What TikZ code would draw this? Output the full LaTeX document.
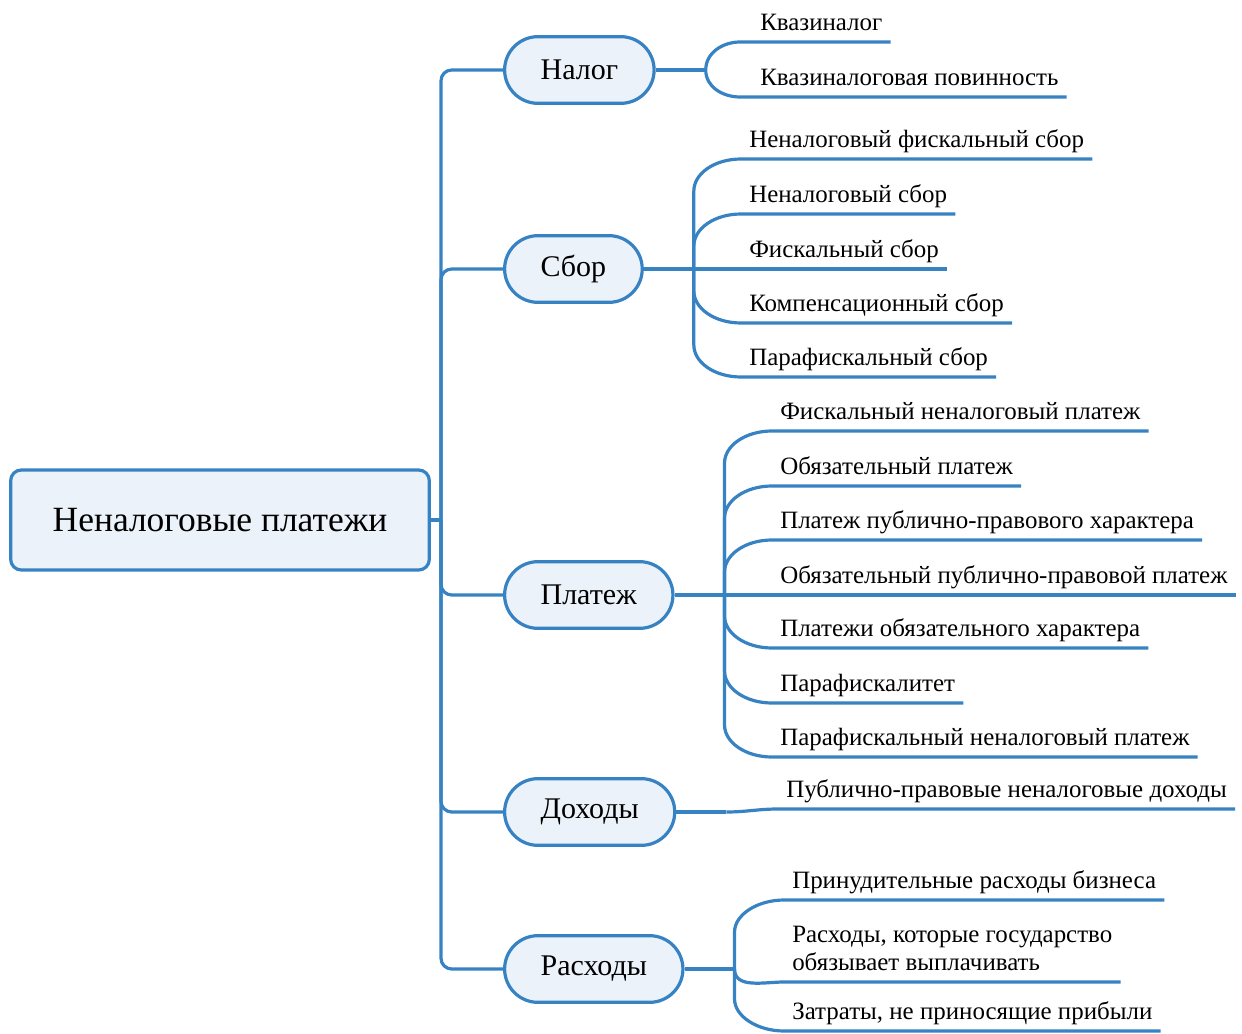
\documentclass[tikz,border=0pt]{standalone}
\usepackage{fontspec}
\setmainfont{Liberation Serif}
\usepackage{xcolor}
\usetikzlibrary{positioning}
\definecolor{mapblue}{RGB}{54,130,195}
\definecolor{mapfill}{RGB}{235,242,249}

\begin{document}
\begin{tikzpicture}[x=0.75pt, y=-0.75pt,
    root/.style={rectangle, draw=mapblue, fill=mapfill, line width=2.4pt, rounded corners=8pt, minimum width=314pt, minimum height=75pt, font=\fontsize{26.6}{30}\selectfont},
    topic/.style={rectangle, draw=mapblue, fill=mapfill, line width=2.4pt, rounded corners=25pt, minimum height=50pt, inner xsep=27pt, anchor=west, font=\fontsize{22.5}{26}\selectfont},
    leaf/.style={inner xsep=6pt, inner ysep=6pt, text depth=0.25em, anchor=south west, font=\fontsize{18.7}{21}\selectfont},
    link/.style={draw=mapblue, line width=2.4pt},
    rise/.style={link, to path={(\tikztostart) -- ([yshift=-24pt]\tikztostart |- \tikztotarget) .. controls +(0pt,13pt) and +(-20pt,0pt) .. (\tikztotarget) \tikztonodes}},
    drop/.style={link, to path={(\tikztostart) -- ([yshift=24pt]\tikztostart |- \tikztotarget) .. controls +(0pt,-13pt) and +(-20pt,0pt) .. (\tikztotarget) \tikztonodes}}]
    \useasboundingbox (0,0) rectangle (1242,1034);

    \node [root] (root) at (220,520) {Неналоговые платежи};
    \coordinate (hub) at (441,520);

    % Topics
    \node [topic] (nalog) at (503,70) {Налог};
    \node [topic] (sbor) at (503,269) {Сбор};
    \node [topic] (platezh) at (503,595) {Платеж};
    \node [topic] (dohody) at (503,812) {Доходы};
    \node [topic] (rashody) at (503,969) {Расходы};

    \coordinate [right=37.5pt of nalog] (nalog-fork);
    \coordinate [right=37.5pt of sbor] (sbor-fork);
    \coordinate [right=37.5pt of platezh] (platezh-fork);
    \coordinate [right=37.5pt of dohody] (dohody-fork);
    \coordinate [right=37.5pt of rashody] (rashody-fork);

    % Leaves
    \node [leaf] (k1) at (752,42) {Квазиналог};
    \node [leaf] (k2) at (752,97) {Квазиналоговая повинность};

    \node [leaf] (s1) at (741,159) {Неналоговый фискальный сбор};
    \node [leaf] (s2) at (741,214) {Неналоговый сбор};
    \node [leaf] (s3) at (741,269) {Фискальный сбор};
    \node [leaf] (s4) at (741,323) {Компенсационный сбор};
    \node [leaf] (s5) at (741,377) {Парафискальный сбор};

    \node [leaf] (p1) at (772,431) {Фискальный неналоговый платеж};
    \node [leaf] (p2) at (772,486) {Обязательный платеж};
    \node [leaf] (p3) at (772,540) {Платеж публично-правового характера};
    \node [leaf] (p4) at (772,595) {Обязательный публично-правовой платеж};
    \node [leaf] (p5) at (772,648) {Платежи обязательного характера};
    \node [leaf] (p6) at (772,703) {Парафискалитет};
    \node [leaf] (p7) at (772,757) {Парафискальный неналоговый платеж};

    \node [leaf] (d1) at (778,809) {Публично-правовые неналоговые доходы};

    \node [leaf] (r1) at (784,900) {Принудительные расходы бизнеса};
    \node [leaf] (r2) at (784,982) {\begin{tabular}[b]{@{}l@{}}Расходы, которые государство\\обязывает выплачивать\end{tabular}};
    \node [leaf] (r3) at (784,1031) {Затраты, не приносящие прибыли};

    % Links
    \draw [link] (root.east) -- (hub);
    \draw [link, rounded corners=8pt] (hub) |- (nalog.west);
    \draw [link, rounded corners=8pt] (hub) |- (sbor.west);
    \draw [link, rounded corners=8pt] (hub) |- (platezh.west);
    \draw [link, rounded corners=8pt] (hub) |- (dohody.west);
    \draw [link, rounded corners=8pt] (hub) |- (rashody.west);

    \draw [link] (nalog.east) -- (nalog-fork);
    \draw [link] (sbor.east) -- (sbor-fork);
    \draw [link] (platezh.east) -- (platezh-fork);
    \draw [link] (dohody.east) -- (dohody-fork);
    \draw [link] (rashody.east) -- (rashody-fork);

    \draw [link] (nalog-fork) to[out=90, in=180] ([xshift=-9pt]k1.south west) -- (k1.south east);
    \draw [link] (nalog-fork) to[out=-90, in=180] ([xshift=-9pt]k2.south west) -- (k2.south east);

    \draw [rise] (sbor-fork) to (s1.south west) -- (s1.south east);
    \draw [rise] (sbor-fork) to (s2.south west) -- (s2.south east);
    \draw [link] (sbor-fork) -- (s3.south west) -- (s3.south east);
    \draw [drop] (sbor-fork) to (s4.south west) -- (s4.south east);
    \draw [drop] (sbor-fork) to (s5.south west) -- (s5.south east);

    \draw [rise] (platezh-fork) to (p1.south west) -- (p1.south east);
    \draw [rise] (platezh-fork) to (p2.south west) -- (p2.south east);
    \draw [rise] (platezh-fork) to (p3.south west) -- (p3.south east);
    \draw [link] (platezh-fork) -- (p4.south west) -- (p4.south east);
    \draw [drop] (platezh-fork) to (p5.south west) -- (p5.south east);
    \draw [drop] (platezh-fork) to (p6.south west) -- (p6.south east);
    \draw [drop] (platezh-fork) to (p7.south west) -- (p7.south east);

    \draw [link] (dohody-fork) to[out=0, in=180] (d1.south west) -- (d1.south east);

    \draw [rise] (rashody-fork) to (r1.south west) -- (r1.south east);
    \draw [link] (rashody-fork) to[out=-90, in=180] (r2.south west) -- (r2.south east);
    \draw [drop] (rashody-fork) to (r3.south west) -- (r3.south east);
\end{tikzpicture}
\end{document}
